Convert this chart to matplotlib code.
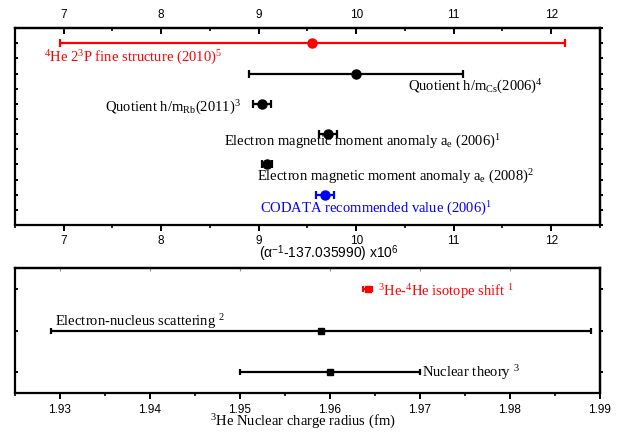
import numpy as np
import matplotlib.pyplot as plt
from matplotlib.ticker import MultipleLocator, NullFormatter, FixedLocator

plt.rcParams['mathtext.fontset'] = 'custom'
plt.rcParams['mathtext.rm'] = 'Liberation Serif'
plt.rcParams['mathtext.it'] = 'Liberation Serif:italic'
plt.rcParams['mathtext.sf'] = 'Liberation Sans'
plt.rcParams['font.family'] = ['Liberation Sans', 'DejaVu Sans']

# fine-structure constant determinations, (alpha^-1 - 137.035990) x 10^6
alpha_names = ["He fine", "h/mCs", "h/mRb", "ae 2006", "ae 2008", "CODATA"]
alpha_val = [9.55, 10.00, 9.037, 9.710, 9.084, 9.679]
alpha_err = [2.59, 1.10, 0.091, 0.096, 0.051, 0.094]
alpha_row = [6, 5, 4, 3, 2, 1]
alpha_col = ["red", "black", "black", "black", "black", "blue"]

# 3He nuclear charge radius (fm)
rad_names = ["isotope shift", "e-scattering", "nuclear theory"]
rad_val = [1.9642, 1.959, 1.960]
rad_err = [0.0005, 0.030, 0.010]
rad_row = [3, 2, 1]
rad_col = ["red", "black", "black"]

top_ticks = [7, 8, 9, 10, 11, 12]
bot_ticks = [1.93, 1.94, 1.95, 1.96, 1.97, 1.98, 1.99]

serif = ['Liberation Serif', 'DejaVu Serif']
fs = 10.5

fig = plt.figure(figsize=(6.24, 4.32), dpi=100)
ax1 = fig.add_axes([0.024, 0.479, 0.9375, 0.456])
ax2 = fig.add_axes([0.024, 0.090, 0.9375, 0.289])

for v, e, r, c in zip(alpha_val, alpha_err, alpha_row, alpha_col):
    ax1.errorbar(v, r, xerr=e, fmt='o', color=c, ms=6.5, lw=1.6,
                 capsize=3, capthick=1.6)

for v, e, r, c in zip(rad_val, rad_err, rad_row, rad_col):
    ax2.errorbar(v, r, xerr=e, fmt='s', color=c, ms=4.5, lw=1.6,
                 capsize=2.5, capthick=1.6)

ax1.set_xlim(6.5, 12.5)
ax1.set_ylim(0, 6.5)
ax2.set_xlim(1.925, 1.99)
ax2.set_ylim(0.5, 3.5)

ax1.xaxis.set_major_locator(FixedLocator(top_ticks))
ax1.xaxis.set_minor_locator(MultipleLocator(0.5))
ax1.yaxis.set_major_locator(MultipleLocator(0.5))
ax1.yaxis.set_major_formatter(NullFormatter())
ax2.xaxis.set_major_locator(FixedLocator(bot_ticks))
ax2.xaxis.set_minor_locator(MultipleLocator(0.005))
ax2.xaxis.set_major_formatter(lambda x, p: f"{x:.2f}")
ax2.yaxis.set_major_locator(MultipleLocator(1))
ax2.yaxis.set_major_formatter(NullFormatter())

for ax in (ax1, ax2):
    for s in ax.spines.values():
        s.set_linewidth(1.6)
    ax.tick_params(axis='x', which='major', direction='out', length=4, width=1.4,
                   labelsize=8.5, pad=3.5)
    ax.tick_params(axis='x', which='minor', direction='out', length=2.5, width=1.2)
    ax.tick_params(axis='y', which='both', direction='in', length=2.5, width=1.4)
    top = ax.secondary_xaxis('top')
    top.xaxis.set_major_locator(ax.xaxis.get_major_locator())
    top.xaxis.set_minor_locator(ax.xaxis.get_minor_locator())
    top.tick_params(which='major', direction='in', length=4, width=1.4,
                    labelsize=8.5, pad=5)
    top.tick_params(which='minor', direction='in', length=2.5, width=1.2)
    top.spines['top'].set_linewidth(1.6)
    right = ax.secondary_yaxis('right')
    right.yaxis.set_major_locator(ax.yaxis.get_major_locator())
    right.yaxis.set_major_formatter(NullFormatter())
    right.tick_params(direction='out', length=2.5, width=1.4)
    right.spines['right'].set_linewidth(1.6)

top2 = ax2.child_axes[0]
top2.xaxis.set_major_formatter(NullFormatter())
top2.tick_params(which='major', length=2.5, width=0.8, colors='#999999')
top2.tick_params(which='minor', length=0)
top2.spines['top'].set_color('black')

# annotations, top panel
ax1.text(6.795, 5.37, r"$^{4}$He 2$^{3}$P fine structure (2010)$^{5}$",
         color='red', fontsize=fs, family=serif)
ax1.text(10.53, 4.43, r"Quotient h/m$_{\rm Cs}$(2006)$^{4}$",
         fontsize=fs, family=serif)
ax1.text(7.42, 3.73, r"Quotient h/m$_{\rm Rb}$(2011)$^{3}$",
         fontsize=fs, family=serif)
ax1.text(8.64, 2.6, r"Electron magnetic moment anomaly a$_{\rm e}$ (2006)$^{1}$",
         fontsize=fs, family=serif)
ax1.text(8.98, 1.47, r"Electron magnetic moment anomaly a$_{\rm e}$ (2008)$^{2}$",
         fontsize=fs, family=serif)
ax1.text(9.01, 0.4, r"CODATA recommended value (2006)$^{1}$",
         color='blue', fontsize=fs, family=serif)

# annotations, bottom panel
ax2.text(1.9653, 2.83, r"$^{3}$He-$^{4}$He isotope shift $^{1}$",
         color='red', fontsize=fs, family=serif)
ax2.text(1.92944, 2.12, r"Electron-nucleus scattering $^{2}$",
         fontsize=fs, family=serif)
ax2.text(1.9702, 0.89, r"Nuclear theory $^{3}$",
         fontsize=fs, family=serif)

fig.text(0.527, 0.412, "(\u03b1$^{\\mathsf{-1}}$-137.035990) x10$^{\\mathsf{6}}$",
         ha='center', va='center', fontsize=10)
fig.text(0.486, 0.023, r"$^{3}$He Nuclear charge radius (fm)",
         ha='center', va='center', fontsize=fs, family=serif)

fig.savefig("out.png", dpi=100)
